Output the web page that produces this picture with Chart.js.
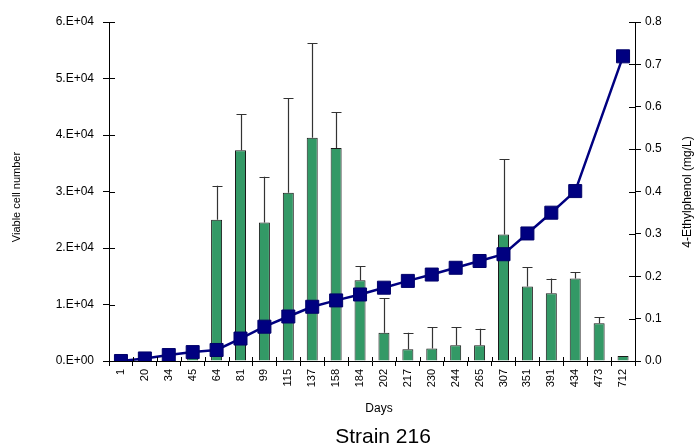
<!DOCTYPE html>
<html>
<head>
<meta charset="utf-8">
<script src="https://cdn.jsdelivr.net/npm/chart.js@4/dist/chart.umd.min.js"></script>
<style>
html,body{margin:0;padding:0;background:#fff;}
#wrap{position:relative;width:695px;height:447px;}
</style>
</head>
<body>
<div id="wrap"><canvas id="c" width="695" height="447"></canvas></div>
<script>
const days = ['1','20','34','45','64','81','99','115','137','158','184','202','217','230','244','265','307','351','391','434','473','712'];
const viableCells = [null,null,null,1000,25000,37300,24500,29800,39500,37700,14300,5000,2100,2200,2800,2800,22400,13200,12000,14600,6700,900];
const viableCellsErrTop = [null,null,null,null,31000,43700,32600,46500,56200,44000,16800,11100,5000,6000,6000,5700,35700,16600,14600,15700,7800,null];
const ethylphenol = [0.0,0.006,0.014,0.021,0.026,0.053,0.081,0.105,0.128,0.143,0.157,0.173,0.189,0.204,0.220,0.236,0.252,0.301,0.350,0.401,null,0.719];
const leftTitle = 'Viable cell number';
const rightTitle = '4-Ethylphenol (mg/L)';
const xTitle = 'Days';
const chartTitle = 'Strain 216';

const FONT = '"Liberation Sans", Arial, sans-serif';

const extras = {
  id: 'extras',
  afterDatasetDraw(chart, args) {
    if (args.index !== 0) return;
    const ctx = chart.ctx;
    const x = chart.scales.x, y = chart.scales.y;
    ctx.save();
    ctx.strokeStyle = '#333';
    ctx.lineWidth = 1.2;
    viableCellsErrTop.forEach((v, i) => {
      if (v == null || viableCells[i] == null) return;
      const px = Math.round(x.getPixelForValue(i)) + 0.5;
      const top = y.getPixelForValue(v);
      const base = y.getPixelForValue(viableCells[i]);
      ctx.beginPath();
      ctx.moveTo(px, base);
      ctx.lineTo(px, top);
      ctx.moveTo(px - 5, Math.round(top) + 0.5);
      ctx.lineTo(px + 5, Math.round(top) + 0.5);
      ctx.stroke();
    });
    ctx.restore();
  },
  afterDraw(chart) {
    const ctx = chart.ctx;
    const a = chart.chartArea;
    const x = chart.scales.x, y = chart.scales.y, y1 = chart.scales.y1;
    ctx.save();
    ctx.strokeStyle = '#000';
    ctx.lineWidth = 1;
    ctx.beginPath();
    y.ticks.forEach(t => {
      const py = Math.round(y.getPixelForValue(t.value)) + 0.5;
      ctx.moveTo(a.left, py); ctx.lineTo(a.left + 6, py);
    });
    y1.ticks.forEach(t => {
      const py = Math.round(y1.getPixelForValue(t.value)) + 0.5;
      ctx.moveTo(a.right - 6, py); ctx.lineTo(a.right, py);
    });
    for (let i = 0; i <= days.length; i++) {
      const px = Math.round(x.getPixelForValue(i - 0.5)) + 0.5;
      ctx.moveTo(px, a.bottom - 4); ctx.lineTo(px, a.bottom);
    }
    ctx.stroke();
    ctx.fillStyle = '#000';
    ctx.textAlign = 'center';
    ctx.textBaseline = 'middle';
    ctx.font = '11px ' + FONT;
    ctx.save();
    ctx.translate(17, 197);
    ctx.rotate(-Math.PI / 2);
    ctx.fillText(leftTitle, 0, 0);
    ctx.restore();
    ctx.save();
    ctx.font = '12px ' + FONT;
    ctx.translate(688, 192);
    ctx.rotate(-Math.PI / 2);
    ctx.fillText(rightTitle, 0, 0);
    ctx.restore();
    ctx.font = '12px ' + FONT;
    ctx.fillText(xTitle, 379, 409);
    ctx.font = '21px ' + FONT;
    ctx.fillText(chartTitle, 383, 437);
    ctx.restore();
  }
};

new Chart(document.getElementById('c'), {
  type: 'bar',
  data: {
    labels: days,
    datasets: [
      {
        type: 'bar',
        label: leftTitle,
        data: viableCells,
        yAxisID: 'y',
        backgroundColor: '#339966',
        borderColor: '#1a1a1a',
        borderWidth: 1,
        barPercentage: 0.46,
        categoryPercentage: 1.0,
        order: 1
      },
      {
        type: 'line',
        label: rightTitle,
        data: ethylphenol,
        yAxisID: 'y1',
        borderColor: '#000080',
        borderWidth: 2.5,
        backgroundColor: '#000080',
        pointStyle: 'rect',
        pointRadius: 9.2,
        pointHoverRadius: 9.2,
        pointBorderColor: '#00006a',
        pointBorderWidth: 1,
        pointBackgroundColor: '#000080',
        tension: 0,
        spanGaps: true,
        order: 0
      }
    ]
  },
  options: {
    responsive: false,
    animation: false,
    events: [],
    layout: { padding: { top: 22, left: 0, right: 0, bottom: 0 } },
    plugins: { legend: { display: false }, title: { display: false }, tooltip: { enabled: false } },
    scales: {
      x: {
        type: 'category',
        offset: true,
        afterFit(s) { s.height = 86; },
        grid: { display: true, offset: true, drawOnChartArea: false, tickLength: 5, color: '#000', lineWidth: 1 },
        border: { display: true, color: '#000', width: 1 },
        ticks: {
          autoSkip: false, maxRotation: 90, minRotation: 90, padding: 3,
          color: '#000', font: { family: FONT, size: 11 }
        }
      },
      y: {
        position: 'left',
        min: 0, max: 60000,
        afterFit(s) { s.width = 109; },
        grid: { display: true, drawOnChartArea: false, tickLength: 6, color: '#000' },
        border: { display: true, color: '#000', width: 1 },
        ticks: {
          stepSize: 10000, padding: 9, color: '#000', font: { family: FONT, size: 12 },
          callback: v => v === 0 ? '0.E+00' : (v / 10000) + '.E+04'
        }
      },
      y1: {
        position: 'right',
        min: 0, max: 0.8,
        afterFit(s) { s.width = 60; },
        grid: { display: true, drawOnChartArea: false, tickLength: 6, color: '#000' },
        border: { display: true, color: '#000', width: 1 },
        ticks: {
          stepSize: 0.1, padding: 4, color: '#000', font: { family: FONT, size: 12 },
          callback: v => Number(v).toFixed(1)
        }
      }
    }
  },
  plugins: [extras]
});
</script>
</body>
</html>
